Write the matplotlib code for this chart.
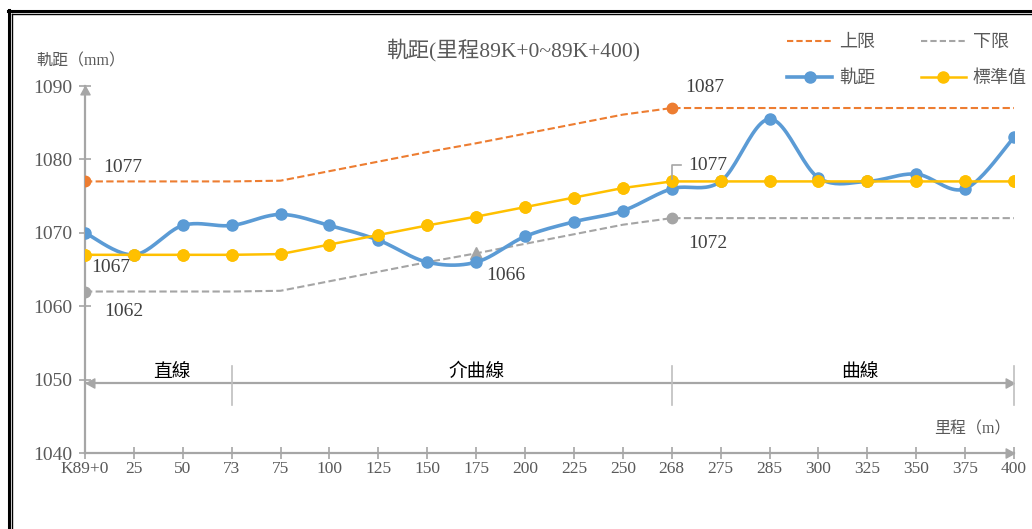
import numpy as np
import matplotlib
matplotlib.use('Agg')
import matplotlib.pyplot as plt
from matplotlib.lines import Line2D
from matplotlib.path import Path

categories = ['K89+0', '25', '50', '73', '75', '100', '125', '150', '175', '200',
              '225', '250', '268', '275', '285', '300', '325', '350', '375', '400']
gauge = [1070, 1067, 1071, 1071, 1072.5, 1071, 1069, 1066, 1066, 1069.5,
         1071.5, 1073, 1076, 1077, 1085.5, 1077.5, 1077, 1078, 1076, 1083]
standard = [1067, 1067, 1067, 1067, 1067.1, 1068.4, 1069.7, 1071.0, 1072.2, 1073.5,
            1074.8, 1076.1, 1077, 1077, 1077, 1077, 1077, 1077, 1077, 1077]
upper = [1077, 1077, 1077, 1077, 1077.1, 1078.4, 1079.7, 1081.0, 1082.2, 1083.5,
         1084.8, 1086.1, 1087, 1087, 1087, 1087, 1087, 1087, 1087, 1087]
lower = [1062, 1062, 1062, 1062, 1062.1, 1063.4, 1064.7, 1066.0, 1067.2, 1068.5,
         1069.8, 1071.1, 1072, 1072, 1072, 1072, 1072, 1072, 1072, 1072]
yticks = [1040, 1050, 1060, 1070, 1080, 1090]
sections = ['直線', '介曲線', '曲線']
section_bounds = [0, 3, 12, 19]
section_label_x = [1.78, 8.0, 15.85]

C_UP = '#ED7D31'
C_LO = '#A5A5A5'
C_G = '#5B9BD5'
C_S = '#FFC000'
C_AX = '#A6A6A6'
C_TXT = '#595959'
CJK = 'Noto Sans CJK TC'
NUM = ['Liberation Serif', 'Noto Sans CJK TC']
MIX = ['Liberation Serif', 'Noto Sans CJK TC']

W, H = 1032, 529
fig = plt.figure(figsize=(W / 100, H / 100), dpi=100)
L, R, T, B = 85, 1014, 86, 453
ax = fig.add_axes([L / W, 1 - B / H, (R - L) / W, (B - T) / H])

x = np.arange(len(categories))


def smooth(xs, ys, n=24):
    P = np.column_stack([xs, ys]).astype(float)
    out = []
    m = len(P)
    for i in range(m - 1):
        p0 = P[i - 1] if i > 0 else P[i]
        p3 = P[i + 2] if i + 2 < m else P[i + 1]
        c1 = P[i] + (P[i + 1] - p0) / 6
        c2 = P[i + 1] - (p3 - P[i]) / 6
        t = np.linspace(0, 1, n)[:, None]
        seg = ((1 - t) ** 3) * P[i] + 3 * ((1 - t) ** 2) * t * c1 + 3 * (1 - t) * t ** 2 * c2 + t ** 3 * P[i + 1]
        if i > 0:
            seg = seg[1:]
        out.append(seg)
    s = np.vstack(out)
    return s[:, 0], s[:, 1]


# limits
ax.plot(x, upper, color=C_UP, lw=1.5, ls=(0, (3.5, 1.6)), zorder=3)
ax.plot(x, lower, color=C_LO, lw=1.5, ls=(0, (3.5, 1.6)), zorder=3)
for i in (0, 12):
    ax.plot(x[i], upper[i], 'o', color=C_UP, ms=7.5, zorder=5)
    ax.plot(x[i], lower[i], 'o', color=C_LO, ms=7.5, zorder=5)
ax.plot(x[8], lower[8], '^', color=C_LO, ms=8, zorder=4)

# standard
ax.plot(x, standard, color=C_S, lw=1.8, marker='o', ms=8, zorder=6)
# gauge (smoothed)
sx, sy = smooth(x, gauge)
ax.plot(sx, sy, color=C_G, lw=2.6, zorder=5)
ax.plot(x, gauge, 'o', color=C_G, ms=8, zorder=5)
ax.plot(x, standard, 'o', color=C_S, ms=8, zorder=7)


def lab(xi, yi, dx, dy, s):
    ax.annotate(s, (xi, yi), xytext=(dx, dy), textcoords='offset pixels',
                ha='left', va='center', fontsize=14, color='#404040',
                family=NUM, zorder=8)


lab(0, upper[0], 18, 14, '1077')
lab(0, standard[0], 6, -13, '1067')
lab(0, lower[0], 19, -20, '1062')
lab(8, gauge[8], 10, -13, '1066')
lab(12, upper[12], 13, 21, '1087')
lab(12, standard[12], 16, 16, '1077')
lab(12, lower[12], 16, -25, '1072')
# leader line for the 1077 label
y0 = standard[12]
lx = [12, 12, 12 + 9.5 / 48.9]
ly = [y0 + 2 / 7.34, y0 + 16 / 7.34, y0 + 16 / 7.34]
ax.plot(lx, ly, color=C_AX, lw=1.2, zorder=8, clip_on=False)

# section arrows
ys = 1049.5
ax.plot([0.05, 18.95], [ys, ys], color=C_AX, lw=1.6, zorder=2, clip_on=False)
left_head = Path([(0, 0), (1, 0.55), (1, -0.55), (0, 0)])
right_head = Path([(0, 0), (-1, 0.55), (-1, -0.55), (0, 0)])
ax.plot([0.03], [ys], marker=left_head, color=C_AX, ms=12, zorder=2, clip_on=False)
ax.plot([19], [ys], marker=right_head, color=C_AX, ms=12, zorder=2, clip_on=False)
for b in section_bounds[1:]:
    ax.plot([b, b], [1046.5, 1051.8], color='#BFBFBF', lw=1.2, zorder=2, clip_on=False)
for s, sxp in zip(sections, section_label_x):
    ax.text(sxp, 1051.1, s, ha='center', va='center', fontsize=13.5, color='black',
            family=CJK, zorder=8)

# axes styling
ax.set_xlim(0, 19)
ax.set_ylim(1040, 1090)
for sp in ('top', 'right'):
    ax.spines[sp].set_visible(False)
for sp in ('left', 'bottom'):
    ax.spines[sp].set_color(C_AX)
    ax.spines[sp].set_linewidth(1.6)
ax.set_yticks(yticks)
ax.set_yticklabels([str(v) for v in yticks], family=NUM, fontsize=14, color=C_TXT)
ax.set_xticks(x)
ax.set_xticklabels(categories, family=NUM, fontsize=12.5, color=C_TXT)
ax.tick_params(axis='both', direction='inout', length=8, width=1.2, color=C_AX)
ax.tick_params(axis='y', pad=5)
ax.tick_params(axis='x', pad=2)
up_head = Path([(0, 0), (0.55, -1), (-0.55, -1), (0, 0)])
ax.plot([0], [1090], marker=up_head, color=C_AX, ms=12, clip_on=False, zorder=4)
ax.plot([19], [1040], marker=right_head, color=C_AX, ms=12, clip_on=False, zorder=4)

# axis titles and chart title
fig.text(36 / W, 1 - 61 / H, '軌距（mm）', ha='left', va='center', fontsize=11.5,
         color=C_TXT, family=MIX)
fig.text(1011 / W, 1 - 429 / H, '里程（m）', ha='right', va='center', fontsize=11.5,
         color=C_TXT, family=MIX)
fig.text(513 / W, 1 - 50 / H, '軌距(里程89K+0~89K+400)', ha='center', va='center',
         fontsize=15.5, color=C_TXT, family=MIX)

# legend
handles = [
    Line2D([], [], color=C_UP, lw=1.5, ls=(0, (3, 1.5))),
    Line2D([], [], color=C_G, lw=2.6, marker='o', ms=8),
    Line2D([], [], color=C_LO, lw=1.5, ls=(0, (3, 1.5))),
    Line2D([], [], color=C_S, lw=1.8, marker='o', ms=8),
]
labels = ['上限', '軌距', '下限', '標準值']
leg = fig.legend(handles, labels, ncol=2, loc='upper left',
                 bbox_to_anchor=(787 / W, 1 - 33 / H), frameon=False,
                 prop={'family': CJK, 'size': 13}, handlelength=2.5,
                 handletextpad=0.4, columnspacing=2.5, labelspacing=1.0,
                 borderpad=0, borderaxespad=0)
for t in leg.get_texts():
    t.set_color(C_TXT)

# frame border
fig.add_artist(Line2D([8.5 / W, 8.5 / W], [0, 1 - 10 / H], color='black', lw=2.2))
fig.add_artist(Line2D([12 / W, 12 / W], [0, 1 - 13.5 / H], color='black', lw=1.0))
fig.add_artist(Line2D([7.5 / W, 1], [1 - 10.5 / H, 1 - 10.5 / H], color='black', lw=2.2))
fig.add_artist(Line2D([12 / W, 1], [1 - 14 / H, 1 - 14 / H], color='black', lw=1.0))

fig.savefig('out.png', dpi=100)
